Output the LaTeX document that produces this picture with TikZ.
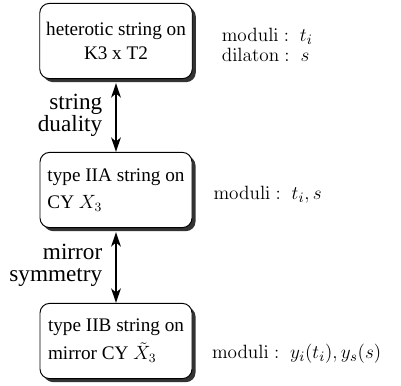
\documentclass[tikz,border=0pt]{standalone}
\usepackage[no-math]{fontspec}
\usetikzlibrary{positioning,shadows,arrows.meta}
\newfontfamily\boxfont{Liberation Serif}
\tikzset{
  stringbox/.style={draw, line width=0.6pt, rounded corners=6pt, fill=white,
    minimum width=95pt, minimum height=47pt, inner sep=4pt,
    font=\boxfont\fontsize{12}{15.5}\selectfont,
    drop shadow={shadow xshift=2.2pt, shadow yshift=-2.2pt, fill=black!80, opacity=1}},
  dualarrow/.style={{Stealth[length=9pt,width=6pt,inset=2.5pt]}-{Stealth[length=9pt,width=6pt,inset=2.5pt]}, line width=1.2pt},
  duallabel/.style={font=\boxfont\fontsize{14.5}{13.5}\selectfont, align=right, inner sep=0pt},
  modlabel/.style={font=\fontsize{13}{12.5}\selectfont, align=left, inner sep=0pt}
}
\begin{document}
\begin{tikzpicture}[x=0.625pt,y=-0.625pt]
  \useasboundingbox (0,0) rectangle (401,385);
  % the three string theories
  \node[stringbox, align=center] (het) at (116,41) {heterotic string on\\K3 x T2};
  \node[stringbox, align=left] (iia) at (116,190) {type IIA string on\\[1pt]CY $X_3$};
  \node[stringbox, align=left] (iib) at (116,341) {type IIB string on\\[2pt]mirror CY $\tilde{X}_3$};
  % dualities
  \draw[dualarrow, shorten <=2.5pt] (het.south) -- node[duallabel, left=8pt] {string\\duality} (iia.north);
  \draw[dualarrow, shorten <=2.5pt] (iia.south) -- node[duallabel, left=8pt] {mirror\\symmetry} (iib.north);
  % moduli
  \node[modlabel, right=18pt of het.east, yshift=-2.5pt] (hetmod) {$\mathrm{moduli}:\; t_i$\\$\mathrm{dilaton}:\; s$};
  \node[modlabel, right=13pt of iia.east, yshift=-3pt] (iiamod) {$\mathrm{moduli}:\; t_i, s$};
  \node[modlabel, right=12pt of iib.east, yshift=-8pt] (iibmod) {$\mathrm{moduli}:\; y_i(t_i), y_s(s)$};
\end{tikzpicture}
\end{document}
